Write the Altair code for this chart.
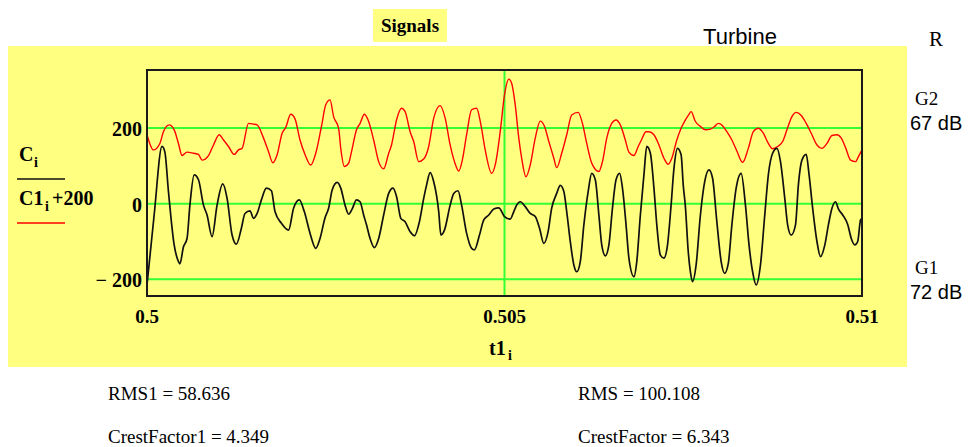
import altair as alt
import pandas as pd

# ---------------- data ----------------
T_BLACK = [0.50000, 0.50010, 0.50021, 0.50025, 0.50030, 0.50038, 0.50044, 0.50046, 0.50051, 0.50056,
           0.50060, 0.50066, 0.50072, 0.50079, 0.50084, 0.50091, 0.50098, 0.50106, 0.50112, 0.50119,
           0.50125, 0.50132, 0.50137, 0.50144, 0.50149, 0.50154, 0.50160, 0.50167, 0.50174, 0.50179,
           0.50188, 0.50198, 0.50205, 0.50213, 0.50220, 0.50228, 0.50236, 0.50242, 0.50249, 0.50254,
           0.50259, 0.50266, 0.50271, 0.50277, 0.50282, 0.50287, 0.50293, 0.50298, 0.50303, 0.50307,
           0.50312, 0.50318, 0.50324, 0.50331, 0.50338, 0.50344, 0.50349, 0.50355, 0.50361, 0.50368,
           0.50374, 0.50381, 0.50387, 0.50391, 0.50396, 0.50401, 0.50408, 0.50411, 0.50416, 0.50424,
           0.50429, 0.50435, 0.50440, 0.50447, 0.50454, 0.50458, 0.50465, 0.50471, 0.50478, 0.50485,
           0.50492, 0.50500, 0.50508, 0.50513, 0.50517, 0.50522, 0.50529, 0.50536, 0.50543, 0.50549,
           0.50555, 0.50561, 0.50566, 0.50573, 0.50578, 0.50583, 0.50587, 0.50592, 0.50597, 0.50601,
           0.50606, 0.50611, 0.50617, 0.50622, 0.50627, 0.50632, 0.50636, 0.50641, 0.50646, 0.50651,
           0.50656, 0.50661, 0.50665, 0.50670, 0.50674, 0.50681, 0.50685, 0.50690, 0.50695, 0.50699,
           0.50704, 0.50709, 0.50713, 0.50718, 0.50723, 0.50728, 0.50733, 0.50737, 0.50742, 0.50747,
           0.50750, 0.50753, 0.50757, 0.50760, 0.50763, 0.50768, 0.50774, 0.50780, 0.50786, 0.50791,
           0.50797, 0.50803, 0.50808, 0.50813, 0.50818, 0.50824, 0.50831, 0.50837, 0.50842, 0.50847,
           0.50852, 0.50858, 0.50864, 0.50869, 0.50875, 0.50881, 0.50886, 0.50892, 0.50896, 0.50901,
           0.50907, 0.50911, 0.50916, 0.50922, 0.50926, 0.50931, 0.50937, 0.50942, 0.50948, 0.50953,
           0.50958, 0.50963, 0.50967, 0.50973, 0.50980, 0.50985, 0.50990, 0.50994, 0.50998, 0.51000]
C_VALUES = [-215, -30, 151, 136, 32, -109, -153, -159, -114, -92,
            -4, 76, 63, -4, -30, -87, -4, 52, 14, -83,
            -107, -65, -26, -19, -39, -26, 10, 41, 34, -21,
            -52, -70, -12, 10, -21, -78, -118, -92, -37, -12,
            36, 56, 41, -4, -28, -14, 10, 5, -30, -56,
            -92, -116, -92, -30, 27, 41, 19, -39, -48, -74,
            -85, -48, 14, 49, 82, 58, -21, -83, -70, -4,
            27, 34, -4, -78, -118, -122, -83, -43, -30, -14,
            -11, -34, -41, -21, -4, 5, -8, -26, -34, -65,
            -105, -74, -12, 27, 48, 32, -21, -100, -162, -180,
            -153, -56, 32, 80, 63, -30, -109, -138, -109, -12,
            63, 80, 41, -56, -144, -193, -153, -30, 76, 151,
            133, 41, -56, -136, -144, -109, -4, 93, 146, 129,
            49, -8, -127, -180, -206, -162, -30, 58, 89, 67,
            -48, -153, -184, -158, -56, 41, 80, -4, -109, -180,
            -215, -162, -30, 76, 133, 146, 111, 14, -56, -83,
            -56, 49, 115, 130, 76, -12, -100, -140, -109, -56,
            -12, 5, -14, -30, -55, -92, -109, -100, -43, -39]

T_RED = [0.50000, 0.50009, 0.50018, 0.50023, 0.50031, 0.50038, 0.50044, 0.50049, 0.50056, 0.50065,
         0.50072, 0.50077, 0.50086, 0.50093, 0.50101, 0.50107, 0.50114, 0.50122, 0.50128, 0.50133,
         0.50142, 0.50149, 0.50154, 0.50163, 0.50170, 0.50176, 0.50182, 0.50189, 0.50194, 0.50201,
         0.50207, 0.50214, 0.50221, 0.50229, 0.50236, 0.50244, 0.50250, 0.50256, 0.50261, 0.50268,
         0.50271, 0.50276, 0.50282, 0.50286, 0.50293, 0.50298, 0.50304, 0.50310, 0.50317, 0.50324,
         0.50331, 0.50338, 0.50342, 0.50349, 0.50356, 0.50361, 0.50368, 0.50373, 0.50380, 0.50387,
         0.50394, 0.50401, 0.50410, 0.50417, 0.50424, 0.50430, 0.50436, 0.50441, 0.50447, 0.50454,
         0.50461, 0.50467, 0.50473, 0.50482, 0.50488, 0.50494, 0.50500, 0.50506, 0.50510, 0.50515,
         0.50520, 0.50524, 0.50530, 0.50536, 0.50543, 0.50550, 0.50556, 0.50562, 0.50569, 0.50573,
         0.50580, 0.50587, 0.50594, 0.50603, 0.50609, 0.50615, 0.50622, 0.50632, 0.50637, 0.50643,
         0.50650, 0.50656, 0.50662, 0.50669, 0.50674, 0.50681, 0.50687, 0.50691, 0.50698, 0.50702,
         0.50709, 0.50716, 0.50723, 0.50729, 0.50734, 0.50741, 0.50747, 0.50753, 0.50758, 0.50761,
         0.50767, 0.50774, 0.50781, 0.50788, 0.50794, 0.50799, 0.50805, 0.50811, 0.50818, 0.50825,
         0.50833, 0.50841, 0.50848, 0.50855, 0.50862, 0.50869, 0.50875, 0.50882, 0.50889, 0.50895,
         0.50902, 0.50908, 0.50915, 0.50922, 0.50929, 0.50937, 0.50944, 0.50951, 0.50958, 0.50965,
         0.50971, 0.50977, 0.50984, 0.50991, 0.50995, 0.51000]
C1_VALUES = [-18, -58, -41, -10, 8, -5, -41, -73, -64, -67,
             -70, -85, -73, -45, -18, -32, -49, -70, -58, -54,
             12, 10, 8, -27, -63, -92, -71, -14, 1, 36,
             24, -32, -70, -98, -67, 4, 61, 74, 30, -1,
             -54, -102, -93, -63, -5, 12, 36, 17, -32, -89,
             -108, -67, -45, 21, 52, 43, -10, -36, -89, -82,
             -49, 26, 59, 26, -45, -89, -114, -85, -18, 48,
             52, 8, -58, -120, -89, -10, 87, 129, 118, 61,
             -27, -80, -129, -98, -27, 18, 4, -36, -80, -105,
             -67, -18, 34, 41, 12, -41, -93, -115, -89, -27,
             12, 21, 8, -32, -64, -73, -49, -34, -10, -10,
             -18, -45, -80, -96, -80, -32, -1, 21, 36, 43,
             17, 4, -5, -3, 4, 12, 6, -10, -32, -61,
             -91, -54, -10, -1, -14, -41, -55, -49, -36, -5,
             30, 41, 33, 12, -14, -45, -54, -41, -20, -18,
             -27, -52, -85, -89, -76, -58]
OFFSET = 200

X_TICKS = [0.5, 0.505, 0.51]
X_TICK_LABELS = ["0.5", "0.505", "0.51"]
Y_TICKS = [-200, 0, 200]
Y_TICK_LABELS = ["\u2212 200", "0", "200"]
X_GRID = [0.505]
X_DOMAIN = [0.5, 0.51]
Y_DOMAIN = [-244, 353]

TITLE = "Signals"
SUBTITLE = "Turbine"
CORNER = "R"
RIGHT_LABELS = ["G2", "67 dB", "G1", "72 dB"]
LEGEND_BLACK = ["C", "i"]
LEGEND_RED = ["C1", "i", "+200"]
X_TITLE = ["t1", "i"]
STATS_LEFT = ["RMS1 = 58.636", "CrestFactor1 = 4.349"]
STATS_RIGHT = ["RMS = 100.108", "CrestFactor = 6.343"]

# ---------------- layout / style ----------------
W, H = 715, 226
OX, OY = 147, 70
YELLOW = "#ffff80"
GREEN = "#33ff33"
SERIF = "Liberation Serif"
SANS = "Liberation Sans"

xscale = alt.Scale(domain=X_DOMAIN, nice=False, zero=False)
yscale = alt.Scale(domain=Y_DOMAIN, nice=False, zero=False)


def one(s=""):
    return pd.DataFrame({"s": [s]})


def txt(s, x, y, size, font=SERIF, weight="normal", align="left"):
    return alt.Chart(one(s)).mark_text(
        font=font, fontSize=size, fontWeight=weight, align=align,
        baseline="middle", color="black"
    ).encode(text="s:N", x=alt.value(x - OX), y=alt.value(y - OY))


def box(x1, x2, y1, y2, color):
    return alt.Chart(one()).mark_rect(color=color).encode(
        x=alt.value(x1 - OX), x2=alt.value(x2 - OX),
        y=alt.value(y1 - OY), y2=alt.value(y2 - OY))


def seg(x1, x2, y, color):
    return alt.Chart(one()).mark_rule(color=color, strokeWidth=1.5).encode(
        x=alt.value(x1 - OX), x2=alt.value(x2 - OX), y=alt.value(y - OY))


bg = box(8, 907, 46, 367, YELLOW)
title_bg = box(373, 447, 9, 42, YELLOW)

hgrid = alt.Chart(pd.DataFrame({"v": Y_TICKS})).mark_rule(color=GREEN, strokeWidth=2).encode(
    y=alt.Y("v:Q", scale=yscale, axis=None))
vgrid = alt.Chart(pd.DataFrame({"t": X_GRID})).mark_rule(color=GREEN, strokeWidth=2).encode(
    x=alt.X("t:Q", scale=xscale, axis=None))

red = alt.Chart(pd.DataFrame({"t": T_RED, "C1": C1_VALUES})).transform_calculate(
    shifted=f"datum.C1 + {OFFSET}"
).mark_line(color="#ff0000", strokeWidth=1.4, interpolate="monotone").encode(
    x=alt.X("t:Q", scale=xscale, axis=None),
    y=alt.Y("shifted:Q", scale=yscale, axis=None))

black = alt.Chart(pd.DataFrame({"t": T_BLACK, "C": C_VALUES})).mark_line(
    color="#111111", strokeWidth=1.7, interpolate="monotone").encode(
    x=alt.X("t:Q", scale=xscale, axis=None),
    y=alt.Y("C:Q", scale=yscale, axis=None))

frame = alt.Chart(one()).mark_rect(filled=False, stroke="#1a1a1a", strokeWidth=2).encode(
    x=alt.value(0), x2=alt.value(W), y=alt.value(0), y2=alt.value(H))

x_labels = alt.Chart(pd.DataFrame({"v": X_TICKS, "lab": X_TICK_LABELS})).mark_text(
    font=SERIF, fontSize=19, fontWeight="bold", align="center", baseline="middle", color="black"
).encode(x=alt.X("v:Q", scale=xscale, axis=None), y=alt.value(317 - OY), text="lab:N")

y_labels = alt.Chart(pd.DataFrame({"v": Y_TICKS, "lab": Y_TICK_LABELS})).mark_text(
    font=SERIF, fontSize=20, fontWeight="bold", align="right", baseline="middle", color="black",
    dx=-5, dy=2
).encode(y=alt.Y("v:Q", scale=yscale, axis=None), x=alt.value(0), text="lab:N")

texts = [
    txt(TITLE, 410, 26, 19, weight="bold", align="center"),
    txt(SUBTITLE, 740, 37, 22, font=SANS, align="center"),
    txt(CORNER, 936, 40, 21, align="center"),
    txt(RIGHT_LABELS[0], 915, 99, 19),
    txt(RIGHT_LABELS[1], 910, 124, 20, font=SANS),
    txt(RIGHT_LABELS[2], 915, 268, 19),
    txt(RIGHT_LABELS[3], 910, 293, 20, font=SANS),
    txt(LEGEND_BLACK[0], 19, 155, 20, weight="bold"),
    txt(LEGEND_BLACK[1], 34, 163, 14, weight="bold"),
    txt(LEGEND_RED[0], 19, 199, 20, weight="bold"),
    txt(LEGEND_RED[1], 45, 207, 14, weight="bold"),
    txt(LEGEND_RED[2], 52, 199, 20, weight="bold"),
    txt(X_TITLE[0], 489, 349, 20, weight="bold"),
    txt(X_TITLE[1], 508, 356, 14, weight="bold"),
    txt(STATS_LEFT[0], 108, 394, 19),
    txt(STATS_LEFT[1], 108, 437, 19),
    txt(STATS_RIGHT[0], 578, 394, 19),
    txt(STATS_RIGHT[1], 578, 437, 19),
]

legend_lines = [seg(17, 65, 179, "#111111"), seg(17, 65, 223, "#ff0000")]

chart = alt.layer(
    bg, title_bg, hgrid, vgrid, red, black, frame, x_labels, y_labels, *legend_lines, *texts
).properties(
    width=W, height=H,
    padding={"left": OX, "top": OY, "right": 974 - OX - W, "bottom": 447 - OY - H},
    autosize=alt.AutoSizeParams(type="none"),
).configure_view(stroke=None).configure(background="white")

chart.save("out.html", embed_options={"renderer": "svg", "actions": False})
